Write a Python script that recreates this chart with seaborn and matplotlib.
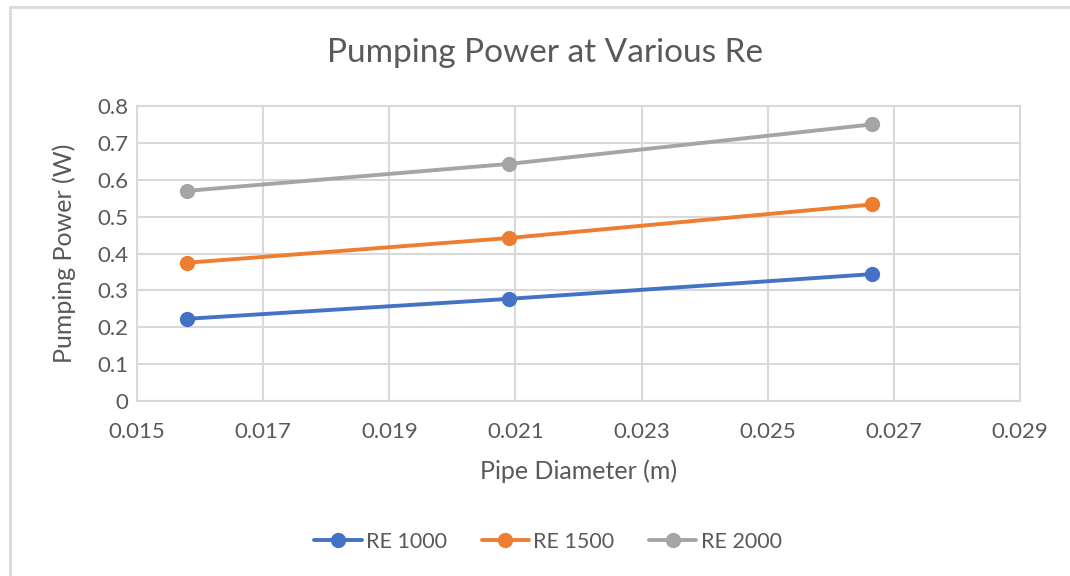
import matplotlib
matplotlib.use('Agg')
import matplotlib.pyplot as plt
from matplotlib.lines import Line2D
import seaborn as sns
import pandas as pd

# pipe inner diameters (m) and pumping power (W) per Reynolds number
diameter = [0.0158, 0.0209, 0.02665]
re_1000 = [0.223, 0.277, 0.344]
re_1500 = [0.375, 0.442, 0.533]
re_2000 = [0.570, 0.643, 0.750]
series_names = ['RE 1000', 'RE 1500', 'RE 2000']
colors = ['#4472C4', '#ED7D31', '#A5A5A5']
x_ticks = [0.015, 0.017, 0.019, 0.021, 0.023, 0.025, 0.027, 0.029]
y_ticks = [0, 0.1, 0.2, 0.3, 0.4, 0.5, 0.6, 0.7, 0.8]

df_list = []
for name, vals in zip(series_names, [re_1000, re_1500, re_2000]):
    df_list.append(pd.DataFrame({'Diameter': diameter, 'Power': vals, 'Series': name}))
df = pd.concat(df_list, ignore_index=True)

sns.set_theme(style='white')
plt.rcParams['font.family'] = ['Lato', 'DejaVu Sans']
text_col = '#595959'
grid_col = '#D9D9D9'

fig = plt.figure(figsize=(10.7, 5.76), dpi=100)
ax = fig.add_axes([137 / 1070, 1 - 401 / 576, (1020 - 137) / 1070, (401 - 106) / 576])

sns.lineplot(ax=ax, data=df, x='Diameter', y='Power', hue='Series', palette=colors,
             marker='o', markersize=11, markeredgewidth=0, linewidth=2.8, legend=True)

ax.set_xlim(0.015, 0.029)
ax.set_ylim(0, 0.8)
ax.set_xticks(x_ticks)
ax.set_yticks(y_ticks)
ax.set_xticklabels(['{:g}'.format(t) for t in x_ticks])
ax.set_yticklabels(['{:g}'.format(t) for t in y_ticks])
ax.grid(True, color=grid_col, linewidth=1.5)
ax.set_axisbelow(True)
for sp in ax.spines.values():
    sp.set_color(grid_col)
    sp.set_linewidth(1.5)
ax.tick_params(axis='both', length=0, labelsize=16, colors=text_col)
ax.tick_params(axis='x', pad=15)
ax.tick_params(axis='y', pad=6)

ax.set_xlabel('Pipe Diameter (m)', fontsize=18, color=text_col)
ax.set_ylabel('Pumping Power (W)', fontsize=18, color=text_col)
ax.xaxis.set_label_coords(0.5, (401 - 459) / 295)
ax.yaxis.set_label_coords((76 - 137) / 883, 0.5)
fig.text(545 / 1070, 1 - 53 / 576, 'Pumping Power at Various Re', ha='center', va='center',
         fontsize=24, color=text_col)

handles, labels = ax.get_legend_handles_labels()
ax.legend(handles, labels, loc='center', bbox_to_anchor=(548 / 1070, 1 - 542 / 576),
          bbox_transform=fig.transFigure, ncol=3, frameon=False, fontsize=15.5,
          labelcolor=text_col, handlelength=2.2, handletextpad=0.2, columnspacing=1.6)

# chart border as in the spreadsheet export
fig.add_artist(Line2D([10 / 1070, 10 / 1070], [0, 1 - 7 / 576], transform=fig.transFigure,
                      color=grid_col, linewidth=2))
fig.add_artist(Line2D([10 / 1070, 1], [1 - 7 / 576, 1 - 7 / 576], transform=fig.transFigure,
                      color=grid_col, linewidth=2))

plt.savefig('out.png', dpi=100)
